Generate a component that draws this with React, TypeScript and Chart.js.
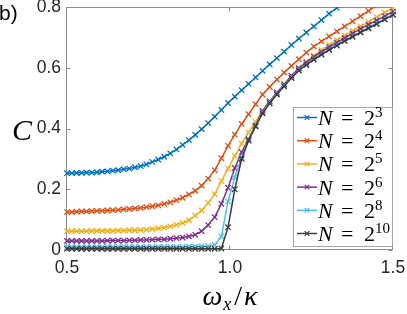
import React, { useEffect, useRef } from 'react';
import { Chart, registerables } from 'chart.js';

Chart.register(...registerables);

// x = omega_x / kappa
const xValues = [0.5, 0.5148, 0.5297, 0.5449, 0.5603, 0.5759, 0.5917, 0.6077, 0.624, 0.6405, 0.6571, 0.674, 0.6911, 0.7084, 0.726, 0.7437, 0.7617, 0.7799, 0.7983, 0.8169, 0.8357, 0.8547, 0.874, 0.8934, 0.9131, 0.933, 0.9531, 0.9735, 0.994, 1.0147, 1.0357, 1.0569, 1.0783, 1.0999, 1.1217, 1.1437, 1.166, 1.1885, 1.2111, 1.234, 1.2571, 1.2805, 1.304, 1.3278, 1.3517, 1.3759, 1.4003, 1.4249, 1.4497, 1.4748, 1.5];

const cN3 = [0.253, 0.253, 0.254, 0.254, 0.255, 0.255, 0.256, 0.258, 0.259, 0.261, 0.263, 0.266, 0.268, 0.272, 0.276, 0.282, 0.29, 0.298, 0.307, 0.318, 0.331, 0.346, 0.362, 0.379, 0.398, 0.418, 0.439, 0.461, 0.484, 0.505, 0.526, 0.547, 0.568, 0.59, 0.611, 0.632, 0.653, 0.675, 0.696, 0.716, 0.736, 0.757, 0.778, 0.797, 0.816, 0.834, 0.85, 0.865, 0.88, 0.895, 0.91];
const cN4 = [0.125, 0.125, 0.126, 0.127, 0.127, 0.128, 0.129, 0.129, 0.13, 0.131, 0.132, 0.134, 0.135, 0.137, 0.139, 0.141, 0.144, 0.147, 0.152, 0.157, 0.164, 0.172, 0.183, 0.195, 0.212, 0.235, 0.263, 0.302, 0.343, 0.38, 0.415, 0.447, 0.48, 0.512, 0.537, 0.561, 0.584, 0.606, 0.628, 0.65, 0.67, 0.687, 0.703, 0.72, 0.736, 0.753, 0.77, 0.787, 0.805, 0.818, 0.83];
const cN5 = [0.062, 0.062, 0.062, 0.062, 0.062, 0.063, 0.063, 0.063, 0.063, 0.063, 0.064, 0.064, 0.065, 0.065, 0.066, 0.067, 0.069, 0.071, 0.074, 0.078, 0.083, 0.089, 0.098, 0.113, 0.13, 0.155, 0.184, 0.227, 0.268, 0.31, 0.35, 0.387, 0.422, 0.46, 0.49, 0.518, 0.546, 0.574, 0.6, 0.62, 0.64, 0.658, 0.675, 0.691, 0.706, 0.721, 0.736, 0.751, 0.767, 0.782, 0.797];
const cN6 = [0.03, 0.03, 0.03, 0.03, 0.03, 0.03, 0.03, 0.03, 0.031, 0.031, 0.031, 0.031, 0.032, 0.032, 0.033, 0.033, 0.034, 0.035, 0.035, 0.037, 0.039, 0.041, 0.045, 0.05, 0.062, 0.082, 0.108, 0.152, 0.205, 0.27, 0.322, 0.365, 0.41, 0.457, 0.489, 0.518, 0.545, 0.573, 0.598, 0.617, 0.636, 0.652, 0.668, 0.683, 0.698, 0.713, 0.728, 0.742, 0.756, 0.77, 0.785];
const cN8 = [0.01, 0.01, 0.01, 0.01, 0.01, 0.01, 0.01, 0.01, 0.01, 0.01, 0.01, 0.01, 0.01, 0.01, 0.01, 0.01, 0.01, 0.01, 0.01, 0.01, 0.01, 0.01, 0.011, 0.011, 0.012, 0.013, 0.016, 0.045, 0.16, 0.24, 0.305, 0.362, 0.408, 0.452, 0.485, 0.514, 0.541, 0.568, 0.593, 0.611, 0.629, 0.645, 0.661, 0.675, 0.69, 0.704, 0.718, 0.732, 0.746, 0.76, 0.776];
const cN10 = [0.004, 0.004, 0.004, 0.004, 0.004, 0.004, 0.004, 0.004, 0.004, 0.004, 0.004, 0.004, 0.004, 0.004, 0.004, 0.004, 0.004, 0.004, 0.004, 0.004, 0.004, 0.004, 0.004, 0.004, 0.004, 0.004, 0.004, 0.005, 0.075, 0.2, 0.3, 0.36, 0.407, 0.45, 0.483, 0.512, 0.539, 0.566, 0.591, 0.609, 0.627, 0.643, 0.659, 0.673, 0.688, 0.702, 0.716, 0.73, 0.744, 0.759, 0.774];

const exponents = ['3', '4', '5', '6', '8', '10'];
const seriesValues = [cN3, cN4, cN5, cN6, cN8, cN10];
const seriesColors = ['#0072BD', '#D95319', '#EDB120', '#7E2F8E', '#4DBEEE', '#3c3c3c'];

const xTicks = [0.5, 1, 1.5];
const yTicks = [0, 0.2, 0.4, 0.6, 0.8];

const frameColor = '#8a8a8a';
const textColor = '#262626';
const sansFont = '"Liberation Sans", Arial, sans-serif';
const mathFont = '"Liberation Serif", "DejaVu Serif", serif';

function drawCross(ctx: CanvasRenderingContext2D, x: number, y: number, h: number) {
  ctx.beginPath();
  ctx.moveTo(x - h, y - h);
  ctx.lineTo(x + h, y + h);
  ctx.moveTo(x + h, y - h);
  ctx.lineTo(x - h, y + h);
  ctx.stroke();
}

const framePlugin = {
  id: 'frameBox',
  beforeDatasetsDraw(chart: any) {
    const { ctx, chartArea: a, scales } = chart;
    ctx.save();
    ctx.strokeStyle = frameColor;
    ctx.lineWidth = 1;
    const L = Math.round(a.left) - 0.5;
    const R = Math.round(a.right) - 0.5;
    const T = Math.round(a.top) + 0.5;
    const B = Math.round(a.bottom) - 0.5;
    ctx.strokeRect(L, T, R - L, B - T);
    const tl = 4;
    ctx.beginPath();
    scales.x.ticks.forEach((t: any) => {
      const px = Math.round(scales.x.getPixelForValue(t.value)) - 0.5;
      ctx.moveTo(px, B);
      ctx.lineTo(px, B - tl);
      ctx.moveTo(px, T);
      ctx.lineTo(px, T + tl);
    });
    scales.y.ticks.forEach((t: any) => {
      const py = Math.round(scales.y.getPixelForValue(t.value)) + 0.5;
      ctx.moveTo(L, py);
      ctx.lineTo(L + tl, py);
      ctx.moveTo(R, py);
      ctx.lineTo(R - tl, py);
    });
    ctx.stroke();
    ctx.restore();
  },
};

const legendPlugin = {
  id: 'mathLegend',
  afterDatasetsDraw(chart: any) {
    const { ctx, chartArea: a } = chart;
    ctx.save();
    const w = 99;
    const h = 139;
    const x0 = Math.round(a.right) - 1 - w;
    const y0 = Math.round(a.bottom) - 4 - h;
    ctx.fillStyle = '#ffffff';
    ctx.fillRect(x0, y0, w, h);
    ctx.strokeStyle = '#a6a6a6';
    ctx.lineWidth = 1;
    ctx.strokeRect(x0 + 0.5, y0 + 0.5, w, h);
    const ds = chart.data.datasets;
    ds.forEach((d: any, i: number) => {
      const cy = y0 + 10.5 + i * 23.2;
      ctx.strokeStyle = d.borderColor;
      ctx.lineWidth = 1.5;
      ctx.beginPath();
      ctx.moveTo(x0 + 4, cy);
      ctx.lineTo(x0 + 24, cy);
      ctx.stroke();
      ctx.lineWidth = 1.2;
      drawCross(ctx, x0 + 14, cy, 2.3);
      ctx.fillStyle = '#000000';
      ctx.textBaseline = 'alphabetic';
      ctx.textAlign = 'left';
      const base = cy + 7.5;
      ctx.font = `italic 22px ${mathFont}`;
      ctx.fillText('N', x0 + 25, base);
      ctx.font = `22px ${mathFont}`;
      ctx.fillText('=', x0 + 48, base);
      ctx.fillText('2', x0 + 71, base);
      ctx.font = `15px ${mathFont}`;
      ctx.fillText(exponents[i], x0 + 82, base - 8);
    });
    ctx.restore();
  },
};

const textPlugin = {
  id: 'extraText',
  afterDraw(chart: any) {
    const { ctx, chartArea: a } = chart;
    ctx.save();
    ctx.fillStyle = '#000000';
    ctx.textBaseline = 'alphabetic';
    // panel label
    ctx.font = `21px ${sansFont}`;
    ctx.textAlign = 'left';
    ctx.fillText('b)', -1, 20);
    // y axis title
    ctx.font = `italic 30px ${mathFont}`;
    ctx.textAlign = 'center';
    ctx.fillText('C', 22, (a.top + a.bottom) / 2 + 11);
    // x axis title: ω_x / κ
    const parts = [
      { t: 'ω', f: `italic 28px ${mathFont}`, dy: 0 },
      { t: 'x', f: `italic 18px ${mathFont}`, dy: 5 },
      { t: '/', f: `28px ${mathFont}`, dy: 0 },
      { t: 'κ', f: `italic 28px ${mathFont}`, dy: 0 },
    ];
    const gaps = [0, 1, 3, 2];
    let total = 0;
    const widths = parts.map((p) => {
      ctx.font = p.f;
      return ctx.measureText(p.t).width;
    });
    widths.forEach((wd, i) => (total += wd + gaps[i]));
    let x = (a.left + a.right) / 2 - total / 2;
    const base = 305;
    ctx.textAlign = 'left';
    parts.forEach((p, i) => {
      x += gaps[i];
      ctx.font = p.f;
      ctx.fillText(p.t, x, base + p.dy);
      x += widths[i];
    });
    ctx.restore();
  },
};

export default function App() {
  const canvasRef = useRef<HTMLCanvasElement | null>(null);

  useEffect(() => {
    if (!canvasRef.current) return;
    const datasets = seriesValues.map((vals, i) => ({
      label: `N = 2^${exponents[i]}`,
      data: xValues.map((x, j) => ({ x, y: vals[j] })),
      borderColor: seriesColors[i],
      backgroundColor: seriesColors[i],
      borderWidth: 1.5,
      pointStyle: 'crossRot' as const,
      pointRadius: 3.8,
      pointBorderWidth: 1.3,
      pointBorderColor: seriesColors[i],
      pointHoverRadius: 3.8,
      tension: 0,
      fill: false,
      order: seriesValues.length - i,
      clip: { left: 8, right: 8, top: 0, bottom: 8 },
    }));

    const chart = new Chart(canvasRef.current, {
      type: 'line',
      data: { datasets },
      options: {
        animation: false,
        responsive: false,
        maintainAspectRatio: false,
        layout: { padding: { left: 0, right: 14, top: 7, bottom: 0 } },
        plugins: {
          legend: { display: false },
          tooltip: { enabled: false },
          title: { display: false },
        },
        scales: {
          x: {
            type: 'linear',
            min: 0.5,
            max: 1.5,
            afterBuildTicks: (s: any) => {
              s.ticks = xTicks.map((v) => ({ value: v }));
            },
            afterFit: (s: any) => {
              s.height = 64;
              s.paddingLeft = 0;
              s.paddingRight = 0;
            },
            grid: { display: false, drawTicks: false },
            border: { display: false },
            ticks: {
              padding: 8,
              color: textColor,
              font: { family: sansFont, size: 17.5 },
              maxRotation: 0,
              autoSkip: false,
            },
          },
          y: {
            type: 'linear',
            min: 0,
            max: 0.8,
            afterBuildTicks: (s: any) => {
              s.ticks = yTicks.map((v) => ({ value: v }));
            },
            afterFit: (s: any) => {
              s.width = 67;
              s.paddingTop = 0;
              s.paddingBottom = 0;
            },
            grid: { display: false, drawTicks: false },
            border: { display: false },
            ticks: {
              padding: 6,
              color: textColor,
              font: { family: sansFont, size: 17.5 },
              autoSkip: false,
            },
          },
        },
      },
      plugins: [framePlugin, legendPlugin, textPlugin],
    });
    return () => chart.destroy();
  }, []);

  return (
    <div style={{ position: 'absolute', left: 0, top: 0, width: 407, height: 314, background: '#ffffff' }}>
      <canvas ref={canvasRef} width={407} height={314} style={{ display: 'block' }} />
    </div>
  );
}
